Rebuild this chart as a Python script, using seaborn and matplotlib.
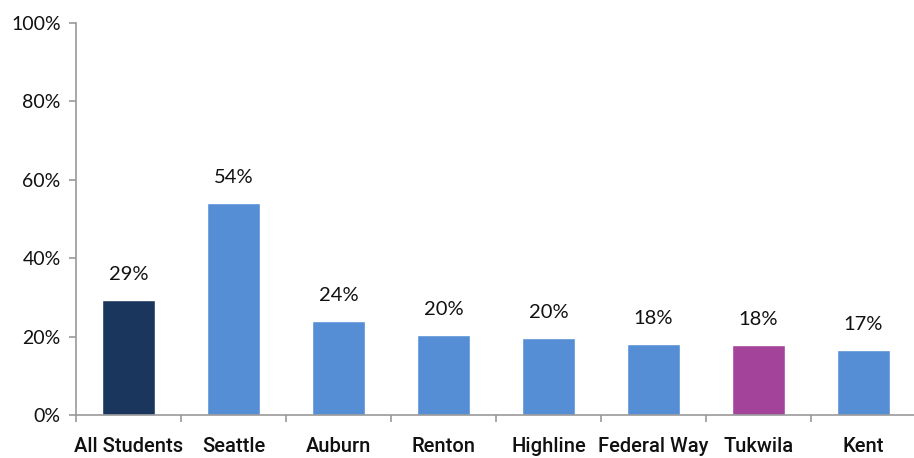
import matplotlib
matplotlib.use("Agg")
import matplotlib.pyplot as plt
import seaborn as sns
import numpy as np
import pandas as pd
from matplotlib.ticker import FixedLocator, PercentFormatter

districts = ["All Students", "Seattle", "Auburn", "Renton", "Highline",
             "Federal Way", "Tukwila", "Kent"]
values = [29.3, 54.1, 24.0, 20.4, 19.6, 18.1, 17.9, 16.7]
labels = ["29%", "54%", "24%", "20%", "20%", "18%", "18%", "17%"]
colors = ["#1A365D", "#558ED5", "#558ED5", "#558ED5", "#558ED5",
          "#558ED5", "#A3449A", "#558ED5"]

df = pd.DataFrame({"district": districts, "value": values})

sns.set_style("white")
plt.rcParams["font.family"] = ["Lato", "DejaVu Sans"]

fig = plt.figure(figsize=(9.14, 4.58), dpi=100)
ax = fig.add_axes([76 / 914, 1 - 415 / 458, 840 / 914, 392 / 458])

sns.barplot(data=df, x="district", y="value", hue="district",
            palette=colors, width=0.5, legend=False, ax=ax, saturation=1)

for i, (v, lab) in enumerate(zip(values, labels)):
    ax.text(i, v + 4.3, lab, ha="center", va="bottom", fontsize=14.5,
            color="#111111")

ax.set_ylim(0, 100)
ax.set_xlim(-0.5, len(districts) - 0.5)
ax.yaxis.set_major_locator(FixedLocator([0, 20, 40, 60, 80, 100]))
ax.yaxis.set_major_formatter(PercentFormatter(decimals=0))
ax.set_xlabel("")
ax.set_ylabel("")

ax.xaxis.set_minor_locator(FixedLocator(np.arange(-0.5, len(districts), 1)))
ax.tick_params(axis="x", which="major", length=0, pad=16)
ax.tick_params(axis="x", which="minor", length=5, color="#999999", width=1.2,
               direction="out", bottom=True)
ax.tick_params(axis="y", length=5, color="#999999", width=1.2,
               direction="out", left=True, labelsize=14, pad=6)
for t in ax.get_xticklabels():
    t.set_fontfamily(["Roboto", "DejaVu Sans"])
    t.set_fontweight("medium")
    t.set_fontsize(14.5)
    t.set_color("#111111")
for t in ax.get_yticklabels():
    t.set_color("#111111")

for s in ["top", "right"]:
    ax.spines[s].set_visible(False)
for s in ["left", "bottom"]:
    ax.spines[s].set_color("#999999")
    ax.spines[s].set_linewidth(1.2)

fig.savefig("out.png", dpi=100)
